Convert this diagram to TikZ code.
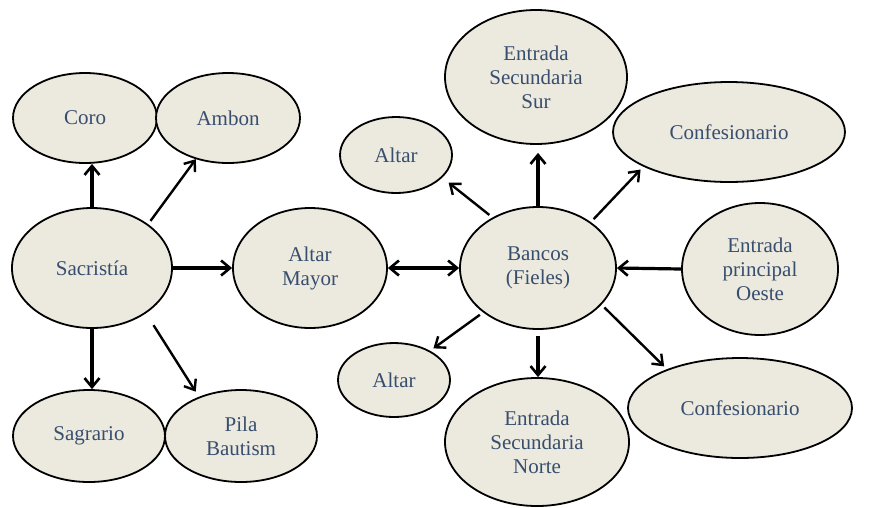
\documentclass[tikz,border=0pt]{standalone}
\usepackage{fontspec}
\setmainfont{Liberation Serif}
\usetikzlibrary{shapes.geometric,arrows.meta}
\definecolor{lugarfill}{RGB}{236,233,222}
\definecolor{lugartext}{RGB}{55,78,110}
\begin{document}
\begin{tikzpicture}[x=1pt,y=-1pt,
	lugar/.style={ellipse,draw=black,line width=1.8pt,fill=lugarfill,text=lugartext,inner sep=0pt,align=center,font=\fontsize{21}{24}\selectfont},
	punta/.tip={Straight Barb[length=9pt,width=15pt,line width=2.6pt]},
	flecha/.style={line width=3.2pt,-punta},
	flechad/.style={line width=2.4pt,-{Straight Barb[length=9pt,width=14pt,line width=2.4pt]}}]
	\useasboundingbox (0,0) rectangle (869,507);
	\node[lugar,minimum width=144pt,minimum height=90pt] (coro) at (85,118) {Coro};
	\node[lugar,minimum width=144pt,minimum height=90pt] (ambon) at (228,118) {Ambon};
	\node[lugar,minimum width=160pt,minimum height=120pt] (sacristia) at (92,268) {Sacristía};
	\node[lugar,minimum width=152pt,minimum height=92pt] (sagrario) at (89,436) {Sagrario};
	\node[lugar,minimum width=152pt,minimum height=92pt] (pila) at (241,436) {Pila\\Bautism};
	\node[lugar,minimum width=154pt,minimum height=120pt] (altarmayor) at (310,268) {Altar\\Mayor};
	\node[lugar,minimum width=156pt,minimum height=122pt] (bancos) at (538,268) {Bancos\\(Fieles)};
	\node[lugar,minimum width=112pt,minimum height=76pt] (altarsur) at (396,155) {Altar};
	\node[lugar,minimum width=112pt,minimum height=74pt] (altarnorte) at (394,380) {Altar};
	\node[lugar,minimum width=182pt,minimum height=134pt] (entradasur) at (536,77) {Entrada\\Secundaria\\Sur};
	\node[lugar,minimum width=184pt,minimum height=128pt] (entradanorte) at (537,442) {Entrada\\Secundaria\\Norte};
	\node[lugar,minimum width=232pt,minimum height=100pt] (confsur) at (729,132) {Confesionario};
	\node[lugar,minimum width=224pt,minimum height=100pt] (confnorte) at (740,408) {Confesionario};
	\node[lugar,minimum width=156pt,minimum height=132pt] (oeste) at (760,269) {Entrada\\principal\\Oeste};
	\draw[flecha] (sacristia.north) -- (sacristia.north |- coro.south);
	\draw[flechad,shorten <=4pt] (sacristia.38) -- (ambon.232);
	\draw[flecha] (sacristia.east) -- (altarmayor.west);
	\draw[flecha] (sacristia.south) -- (sacristia.south |- sagrario.north);
	\draw[flechad,shorten <=14pt,shorten >=6pt] (sacristia.-40) -- (pila.137);
	\draw[flecha,punta-punta] (altarmayor.east) -- (bancos.west);
	\draw[flechad,shorten <=4pt,shorten >=8pt] (bancos.132) -- (altarsur.-26);
	\draw[flecha,shorten >=8pt] (bancos.north) -- (bancos.north |- entradasur.south);
	\draw[flechad,shorten <=4pt,shorten >=4pt] (bancos.41) -- (confsur.202);
	\draw[flecha] (oeste.west) -- (bancos.east);
	\draw[flechad,shorten <=4pt,shorten >=4pt] (bancos.219) -- (altarnorte.39);
	\draw[flecha,shorten <=6pt] (bancos.south) -- (bancos.south |- entradanorte.north);
	\draw[flechad,shorten <=4pt,shorten >=4pt] (bancos.-30) -- (confnorte.152);
\end{tikzpicture}
\end{document}
